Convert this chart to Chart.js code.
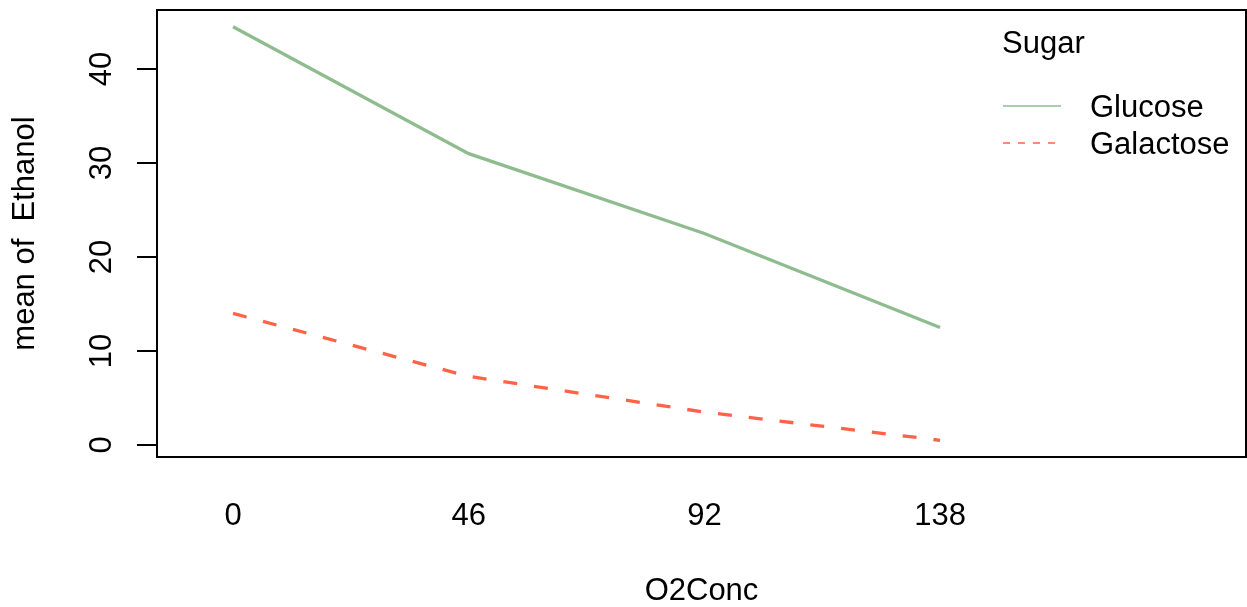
<!DOCTYPE html>
<html>
<head>
<meta charset="utf-8">
<script src="https://cdn.jsdelivr.net/npm/chart.js@4.4.1/dist/chart.umd.min.js"></script>
<style>
  html, body { margin: 0; padding: 0; background: #fff; }
  #wrap { width: 1247px; height: 607px; }
</style>
</head>
<body>
<div id="wrap"><canvas id="c" width="1247" height="607"></canvas></div>
<script>
// Werte
const o2Conc = ["0", "46", "92", "138"];
const glucose = [44.5, 31.0, 22.5, 12.5];
const galactose = [14.0, 7.3, 3.5, 0.5];
const yTicks = [0, 10, 20, 30, 40];

const FONT = "'Liberation Sans', Arial, sans-serif";
const FS = 31;

// Rahmen um den Plotbereich
const boxPlugin = {
    id: 'box',
    afterDraw(chart) {
        const a = chart.chartArea;
        const ctx = chart.ctx;
        ctx.save();
        ctx.strokeStyle = '#000';
        ctx.lineWidth = 2;
        ctx.strokeRect(a.left, a.top, a.right - a.left, a.bottom - a.top);
        ctx.restore();
    }
};

// gedrehte y-Achsenbeschriftung (wie in R)
const yLabelPlugin = {
    id: 'yLabels',
    afterDraw(chart) {
        const s = chart.scales.y;
        const ctx = chart.ctx;
        ctx.save();
        ctx.fillStyle = '#000';
        ctx.font = FS + 'px ' + FONT;
        ctx.textAlign = 'center';
        ctx.textBaseline = 'alphabetic';
        s.ticks.forEach(t => {
            const py = s.getPixelForValue(t.value);
            ctx.save();
            ctx.translate(111, py);
            ctx.rotate(-Math.PI / 2);
            ctx.fillText(String(t.value), 0, 0);
            ctx.restore();
        });
        ctx.restore();
    }
};

// Legende innerhalb des Plots
const legendPlugin = {
    id: 'innerLegend',
    afterDraw(chart) {
        const ctx = chart.ctx;
        ctx.save();
        ctx.fillStyle = '#000';
        ctx.font = FS + 'px ' + FONT;
        ctx.textAlign = 'left';
        ctx.textBaseline = 'alphabetic';
        ctx.fillText('Sugar', 1002, 53);
        const rows = [106, 143];
        chart.data.datasets.forEach((ds, i) => {
            const y = rows[i];
            ctx.strokeStyle = ds.borderColor;
            ctx.lineWidth = 1.5;
            ctx.setLineDash(ds.borderDash && ds.borderDash.length ? [7, 8] : []);
            ctx.beginPath();
            ctx.moveTo(1003, y);
            ctx.lineTo(1061, y);
            ctx.stroke();
            ctx.setLineDash([]);
            ctx.fillText(ds.label, 1090, y + 11);
        });
        ctx.restore();
    }
};

const ctx = document.getElementById('c').getContext('2d');

new Chart(ctx, {
    type: 'line',
    data: {
        datasets: [{
            label: 'Glucose',
            data: glucose.map((v, i) => ({ x: i, y: v })),
            borderColor: '#8FBC8F',
            borderWidth: 3.3,
            borderDash: [],
            pointRadius: 0,
            tension: 0,
            fill: false
        }, {
            label: 'Galactose',
            data: galactose.map((v, i) => ({ x: i, y: v })),
            borderColor: '#FF6347',
            borderWidth: 3.3,
            borderDash: [14, 17],
            pointRadius: 0,
            tension: 0,
            fill: false
        }]
    },
    options: {
        responsive: false,
        animation: false,
        layout: { padding: { top: 10, right: 1, left: 0, bottom: 0 } },
        plugins: {
            legend: { display: false },
            tooltip: { enabled: false }
        },
        scales: {
            x: {
                type: 'linear',
                min: -0.3225,
                max: 4.298,
                afterBuildTicks: s => { s.ticks = o2Conc.map((_, i) => ({ value: i })); },
                afterFit: s => { s.height = 150; },
                grid: { display: false, drawTicks: false },
                border: { display: false },
                ticks: {
                    color: '#000',
                    font: { family: FONT, size: FS },
                    padding: 41,
                    maxRotation: 0,
                    callback: v => o2Conc[v]
                },
                title: {
                    display: true,
                    text: 'O2Conc',
                    color: '#000',
                    font: { family: FONT, size: FS, lineHeight: 1 },
                    padding: 0
                }
            },
            y: {
                type: 'linear',
                min: -1.277,
                max: 46.28,
                afterBuildTicks: s => { s.ticks = yTicks.map(v => ({ value: v })); },
                afterFit: s => { s.width = 157; },
                grid: {
                    drawOnChartArea: false,
                    drawTicks: true,
                    tickLength: 20,
                    color: '#000',
                    lineWidth: 2
                },
                border: { display: false },
                ticks: { display: false },
                title: {
                    display: true,
                    text: 'mean of  Ethanol',
                    color: '#000',
                    font: { family: FONT, size: FS, lineHeight: 1 },
                    padding: { top: 10, bottom: 0 }
                }
            }
        }
    },
    plugins: [boxPlugin, yLabelPlugin, legendPlugin]
});
</script>
</body>
</html>
